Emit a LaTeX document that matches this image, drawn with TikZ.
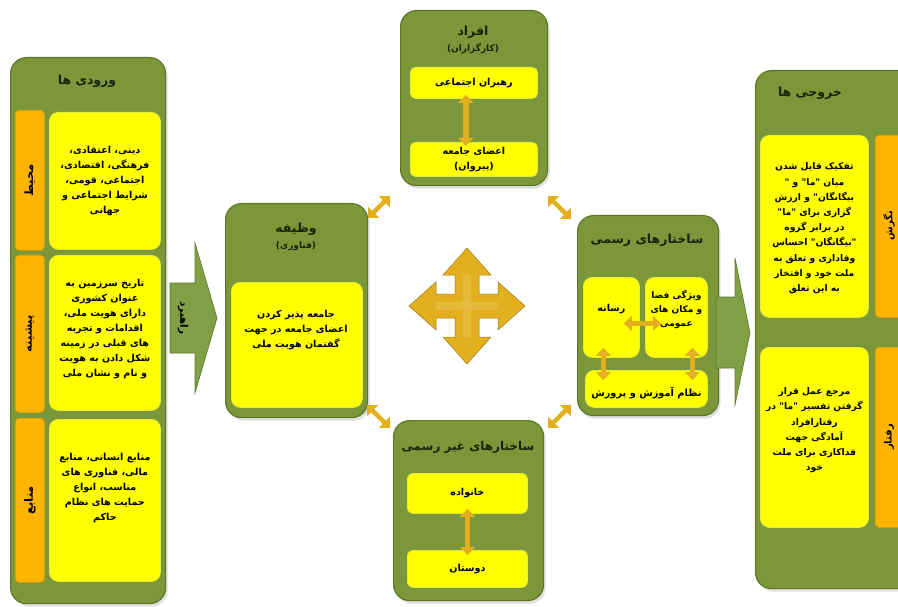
\documentclass[tikz,border=0pt]{standalone}
\usepackage{fontspec}
\usetikzlibrary{arrows.meta,shadows}
\TeXXeTstate=1
\newfontfamily\arabicfont[Script=Arabic]{DejaVu Sans}
\newcommand{\fa}[1]{{\arabicfont\bfseries\beginR #1\endR}}
\definecolor{pgreen}{HTML}{7B973A}
\definecolor{pgreendark}{HTML}{5E7828}
\definecolor{byellow}{HTML}{FFFF00}
\definecolor{yborder}{HTML}{E2EC3C}
\definecolor{torange}{HTML}{FFB400}
\definecolor{tborder}{HTML}{E8A000}
\definecolor{gold}{HTML}{E2B01E}
\definecolor{arrgreen}{HTML}{80A046}
\definecolor{ttl}{HTML}{1A2406}
\tikzset{
  panel/.style={draw=pgreendark, line width=1.2pt, fill=pgreen, rounded corners=16pt,
    anchor=north west, inner sep=0pt,
    drop shadow={opacity=0.25, shadow xshift=2pt, shadow yshift=-3pt}},
  ybox/.style={fill=byellow, draw=yborder, line width=0.8pt, rounded corners=9pt,
    anchor=north west, inner sep=0pt},
  ytext/.style={align=center, inner sep=0pt, font=\fontsize{9.6}{15}\selectfont},
  tab/.style={fill=torange, draw=tborder, line width=0.6pt, rounded corners=4pt,
    anchor=north west, inner sep=0pt},
  title/.style={align=center, inner sep=0pt, text=ttl, font=\fontsize{12.5}{15}\selectfont},
  subtitle/.style={align=center, inner sep=0pt, text=ttl, font=\fontsize{9}{11}\selectfont},
  tablabel/.style={inner sep=0pt, font=\fontsize{11.5}{13}\selectfont},
  dbl/.style={draw=gold, line width=5.5pt,
    {Triangle[width=15pt,length=8pt]}-{Triangle[width=15pt,length=8pt]}},
  goldshape/.style={fill=gold, draw=gold!70!black, line width=0.5pt},
  bigarrow/.style={fill=arrgreen, draw=pgreendark, line width=0.6pt}
}
\begin{document}
\begin{tikzpicture}[x=1pt,y=-1pt]
\useasboundingbox (0,0) rectangle (898,607);
\clip (0,0) rectangle (898,607);
\fill[white] (0,0) rectangle (898,607);

% ---------- Inputs ----------
\node[panel, minimum width=155pt, minimum height=546pt] (inp) at (10,57) {};
\node[title] (inpt) at (87,81) {\fa{ورودی ها}};
\node[tab, minimum width=29pt, minimum height=140pt] (tab1) at (15,110) {};
\node[tab, minimum width=29pt, minimum height=157pt] (tab2) at (15,255) {};
\node[tab, minimum width=29pt, minimum height=164pt] (tab3) at (15,418) {};
\node[tablabel, rotate=90] (tab1l) at (tab1.center) {\fa{محیط}};
\node[tablabel, rotate=90] (tab2l) at (tab2.center) {\fa{پیشینه}};
\node[tablabel, rotate=90] (tab3l) at (tab3.center) {\fa{منابع}};
\node[ybox, minimum width=111pt, minimum height=137pt] (in1) at (49,112) {};
\node[ybox, minimum width=111pt, minimum height=155pt] (in2) at (49,255) {};
\node[ybox, minimum width=111pt, minimum height=162pt] (in3) at (49,419) {};
\node[ytext] (in1t) at (in1.center) {\fa{دینی، اعتقادی،}\\\fa{فرهنگی، اقتصادی،}\\\fa{اجتماعی، قومی،}\\\fa{شرایط اجتماعی و}\\\fa{جهانی}};
\node[ytext] (in2t) at ([yshift=4pt]in2.center) {\fa{تاریخ سرزمین به}\\\fa{عنوان کشوری}\\\fa{دارای هویت ملی،}\\\fa{اقدامات و تجربه}\\\fa{های قبلی در زمینه}\\\fa{شکل دادن به هویت}\\\fa{و نام و نشان ملی}};
\node[ytext] (in3t) at ([yshift=12pt]in3.center) {\fa{منابع انسانی، منابع}\\\fa{مالی، فناوری های}\\\fa{مناسب، انواع}\\\fa{حمایت های نظام}\\\fa{حاکم}};

% ---------- Strategy arrow ----------
\draw[bigarrow] (170,283) -- (195,283) -- (195,243) -- (217,318) -- (195,393) -- (195,353) -- (170,353) -- cycle;
\node[tablabel, rotate=-90, font=\fontsize{10.5}{12}\selectfont] (rah) at (183,318) {\fa{راهبرد}};

% ---------- Function ----------
\node[panel, minimum width=142pt, minimum height=214pt] (waz) at (225,203) {};
\node[title] (wazt) at (296,229) {\fa{وظیفه}};
\node[subtitle] (wazs) at (296,246) {\fa{(فناوری)}};
\node[ybox, minimum width=131pt, minimum height=125pt] (wazb) at (231,282) {};
\node[ytext] (wazbt) at (296,330) {\fa{جامعه پذیر کردن}\\\fa{اعضای جامعه در جهت}\\\fa{گفتمان هویت ملی}};

% ---------- Agents ----------
\node[panel, minimum width=147pt, minimum height=175pt] (afr) at (400,10) {};
\node[title] (afrt) at (473,32) {\fa{افراد}};
\node[subtitle] (afrs) at (473,49) {\fa{(کارگزاران)}};
\node[ybox, minimum width=127pt, minimum height=31pt, rounded corners=5pt] (lead) at (410,67) {};
\node[ytext] (leadt) at (lead.center) {\fa{رهبران اجتماعی}};
\node[ybox, minimum width=127pt, minimum height=34pt, rounded corners=5pt] (memb) at (410,142) {};
\node[ytext] (membt) at (memb.center) {\fa{اعضای جامعه}\\\fa{(پیروان)}};
\draw[dbl] ([xshift=-8pt,yshift=4pt]lead.south) -- ([xshift=-8pt,yshift=-4pt]memb.north);

% ---------- Central four-way arrow ----------
\begin{scope}[shift={(467,306)}]
\def\d{58}\def\L{27}\def\a{12}\def\h{24}
\draw[goldshape] (0,-\d) -- (\h,-\d+\L) -- (\a,-\d+\L) -- (\a,-\a) -- (\d-\L,-\a) -- (\d-\L,-\h)
  -- (\d,0) -- (\d-\L,\h) -- (\d-\L,\a) -- (\a,\a) -- (\a,\d-\L) -- (\h,\d-\L)
  -- (0,\d) -- (-\h,\d-\L) -- (-\a,\d-\L) -- (-\a,\a) -- (-\d+\L,\a) -- (-\d+\L,\h)
  -- (-\d,0) -- (-\d+\L,-\h) -- (-\d+\L,-\a) -- (-\a,-\a) -- (-\a,-\d+\L) -- (-\h,-\d+\L) -- cycle;
\fill[gold!80!white, opacity=0.6] (-4,-\d+\L) rectangle (4,\d-\L);
\fill[gold!80!white, opacity=0.6] (-\d+\L,-4) rectangle (\d-\L,4);
\end{scope}

% ---------- Formal structures ----------
\node[panel, minimum width=141pt, minimum height=200pt] (form) at (577,215) {};
\node[title] (formt) at (647,240) {\fa{ساختارهای رسمی}};
\node[ybox, minimum width=56pt, minimum height=80pt] (ras) at (583,277) {};
\node[ytext] (rast) at ([yshift=8pt]ras.center) {\fa{رسانه}};
\node[ybox, minimum width=62pt, minimum height=80pt] (vij) at (645,277) {};
\node[ytext, font=\fontsize{9}{14}\selectfont] (vijt) at ([yshift=8pt]vij.center) {\fa{ویژگی فضا}\\\fa{و مکان های}\\\fa{عمومی}};
\node[ybox, minimum width=122pt, minimum height=37pt] (amz) at (585,370) {};
\node[ytext, font=\fontsize{9.8}{12}\selectfont] (amzt) at ([yshift=-4pt]amz.center) {\fa{نظام آموزش و پرورش}};
\draw[dbl] ([xshift=-16pt,yshift=-6pt]ras.east) -- ([xshift=16pt,yshift=-6pt]vij.west);
\draw[dbl] ([xshift=-8pt,yshift=10pt]ras.south) -- ([xshift=-43pt,yshift=-10pt]amz.north);
\draw[dbl] ([xshift=16pt,yshift=10pt]vij.south) -- ([xshift=46pt,yshift=-10pt]amz.north);

% ---------- Arrow to outputs ----------
\draw[bigarrow] (716,297) -- (735,297) -- (735,258) -- (750,333) -- (735,405) -- (735,368) -- (716,368) -- cycle;

% ---------- Informal structures ----------
\node[panel, minimum width=150pt, minimum height=180pt] (inf) at (393,420) {};
\node[title, font=\fontsize{12}{14}\selectfont] (inft) at (468,447) {\fa{ساختارهای غیر رسمی}};
\node[ybox, minimum width=120pt, minimum height=40pt, rounded corners=6pt] (fam) at (407,473) {};
\node[ytext] (famt) at (fam.center) {\fa{خانواده}};
\node[ybox, minimum width=120pt, minimum height=37pt, rounded corners=6pt] (frd) at (407,550) {};
\node[ytext] (frdt) at (frd.center) {\fa{دوستان}};
\draw[dbl] ([yshift=5pt]fam.south) -- ([yshift=-5pt]frd.north);

% ---------- Outputs ----------
\node[panel, minimum width=160pt, minimum height=518pt] (out) at (755,70) {};
\node[title] (outt) at (810,93) {\fa{خروجی ها}};
\node[ybox, minimum width=108pt, minimum height=182pt] (out1) at (760,135) {};
\node[ybox, minimum width=108pt, minimum height=180pt] (out2) at (760,347) {};
\node[tab, minimum width=40pt, minimum height=182pt] (otab1) at (875,135) {};
\node[tab, minimum width=40pt, minimum height=180pt] (otab2) at (875,347) {};
\node[tablabel, rotate=90, font=\fontsize{10}{12}\selectfont] (otab1l) at (889,226) {\fa{نگرش}};
\node[tablabel, rotate=90, font=\fontsize{10}{12}\selectfont] (otab2l) at (889,437) {\fa{رفتار}};
\node[ytext, font=\fontsize{9.2}{15.2}\selectfont] (out1t) at ([yshift=-2pt]out1.center) {\fa{تفکیک قایل شدن}\\\fa{میان "ما" و "}\\\fa{بیگانگان" و ارزش}\\\fa{گزاری برای "ما"}\\\fa{در برابر گروه}\\\fa{"بیگانگان" احساس}\\\fa{وفاداری و تعلق به}\\\fa{ملت خود و افتخار}\\\fa{به این تعلق}};
\node[ytext, font=\fontsize{9.2}{15.2}\selectfont] (out2t) at ([yshift=7pt]out2.center) {\fa{مرجع عمل قرار}\\\fa{گرفتن تفسیر "ما" در}\\\fa{رفتارافراد}\\\fa{آمادگی جهت}\\\fa{فداکاری برای ملت}\\\fa{خود}};

% ---------- Diagonal links ----------
\coordinate (dl1a) at (368,218); \coordinate (dl1b) at (390,196);
\coordinate (dr1a) at (548,196); \coordinate (dr1b) at (571,219);
\coordinate (dl2a) at (367,405); \coordinate (dl2b) at (390,428);
\coordinate (dr2a) at (548,428); \coordinate (dr2b) at (571,405);
\draw[dbl, line width=4.5pt] (dl1a) -- (dl1b);
\draw[dbl, line width=4.5pt] (dr1a) -- (dr1b);
\draw[dbl, line width=4.5pt] (dl2a) -- (dl2b);
\draw[dbl, line width=4.5pt] (dr2a) -- (dr2b);
\end{tikzpicture}
\end{document}
